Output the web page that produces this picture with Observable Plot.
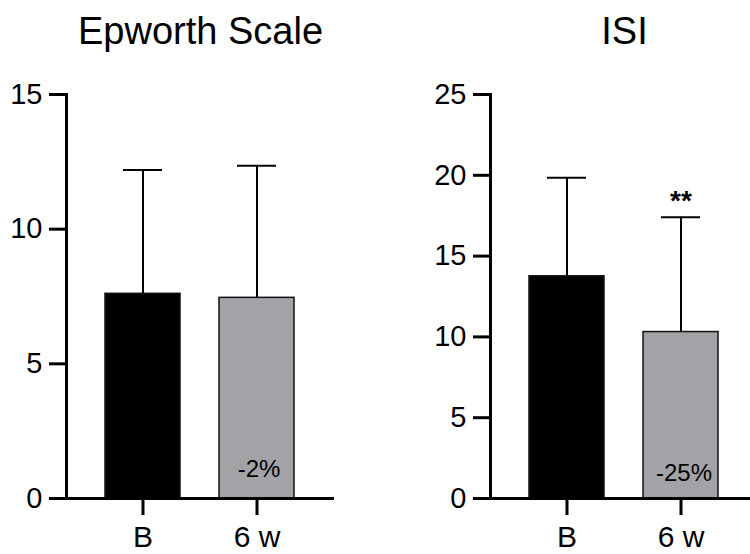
<!DOCTYPE html>
<html><head><meta charset="utf-8">
<script src="https://cdn.jsdelivr.net/npm/d3@7"></script>
<script src="https://cdn.jsdelivr.net/npm/@observablehq/plot@0.6"></script>
<style>
html,body{margin:0;padding:0;background:#fff;color:#000;}
#wrap{position:relative;width:750px;height:554px;overflow:hidden;font-family:"Liberation Sans",Arial,sans-serif;}
#wrap > div{position:absolute;top:0;width:375px;height:554px;}
#wrap svg{max-width:none !important;}
#left{left:0;}
#right{left:424px;}
</style></head><body><div id="wrap"><div id="left"></div><div id="right"></div></div>
<script>
const categories = ["B", "6 w"];
const epworthMean = [7.6, 7.45];
const epworthSD = [4.6, 4.9];
const epworthChange = ["", "-2%"];
const epworthSig = ["", ""];
const epworthTicks = [0, 5, 10, 15];
const isiMean = [13.75, 10.3];
const isiSD = [6.1, 7.1];
const isiChange = ["", "-25%"];
const isiSig = ["", "**"];
const isiTicks = [0, 5, 10, 15, 20, 25];

function panel(title, means, sds, changes, sigs, yMax, ticks, changeDx, changeDy) {
  const rows = categories.map((c, i) => ({cat: c, mean: means[i], sd: sds[i], change: changes[i], sig: sigs[i]}));
  return Plot.plot({
    width: 375, height: 554,
    marginTop: 94, marginBottom: 56, marginLeft: 66, marginRight: 41,
    style: {fontFamily: "'Liberation Sans', Arial, sans-serif", background: "white", overflow: "visible", color: "#000"},
    x: {domain: categories, paddingInner: 0.339, paddingOuter: 0.335},
    y: {domain: [0, yMax]},
    color: {domain: categories, range: ["#000000", "#a3a3a7"]},
    marks: [
      Plot.ruleX(rows, {x: "cat", y1: "mean", y2: d => d.mean + d.sd, strokeWidth: 2}),
      Plot.tickY(rows, {x: "cat", y: d => d.mean + d.sd, strokeWidth: 2, insetLeft: 18, insetRight: 18}),
      Plot.barY(rows, {x: "cat", y: "mean", fill: "cat", stroke: "#111", strokeWidth: 1.5}),
      Plot.text(rows, {x: "cat", y: () => 0, text: "change", fontSize: 24, lineAnchor: "bottom", dx: changeDx, dy: changeDy}),
      Plot.text(rows, {x: "cat", y: d => d.mean + d.sd, text: "sig", fontSize: 28, fontWeight: "bold", lineAnchor: "bottom", dy: -7}),
      Plot.axisY({ticks, tickSize: 17, tickPadding: 7, fontSize: 29, strokeWidth: 3, label: null}),
      Plot.axisX({tickSize: 17, tickPadding: 10, fontSize: 30, strokeWidth: 3, label: null}),
      Plot.ruleY([0], {strokeWidth: 3}),
      Plot.frame({anchor: "left", strokeWidth: 3}),
      Plot.text([title], {frameAnchor: "top", dy: -51, fontSize: 38, lineAnchor: "bottom"})
    ]
  });
}

document.getElementById("left").appendChild(panel("Epworth Scale", epworthMean, epworthSD, epworthChange, epworthSig, 15, epworthTicks, 2, -22));
document.getElementById("right").appendChild(panel("ISI", isiMean, isiSD, isiChange, isiSig, 25, isiTicks, 3, -18));
</script>
</body></html>
